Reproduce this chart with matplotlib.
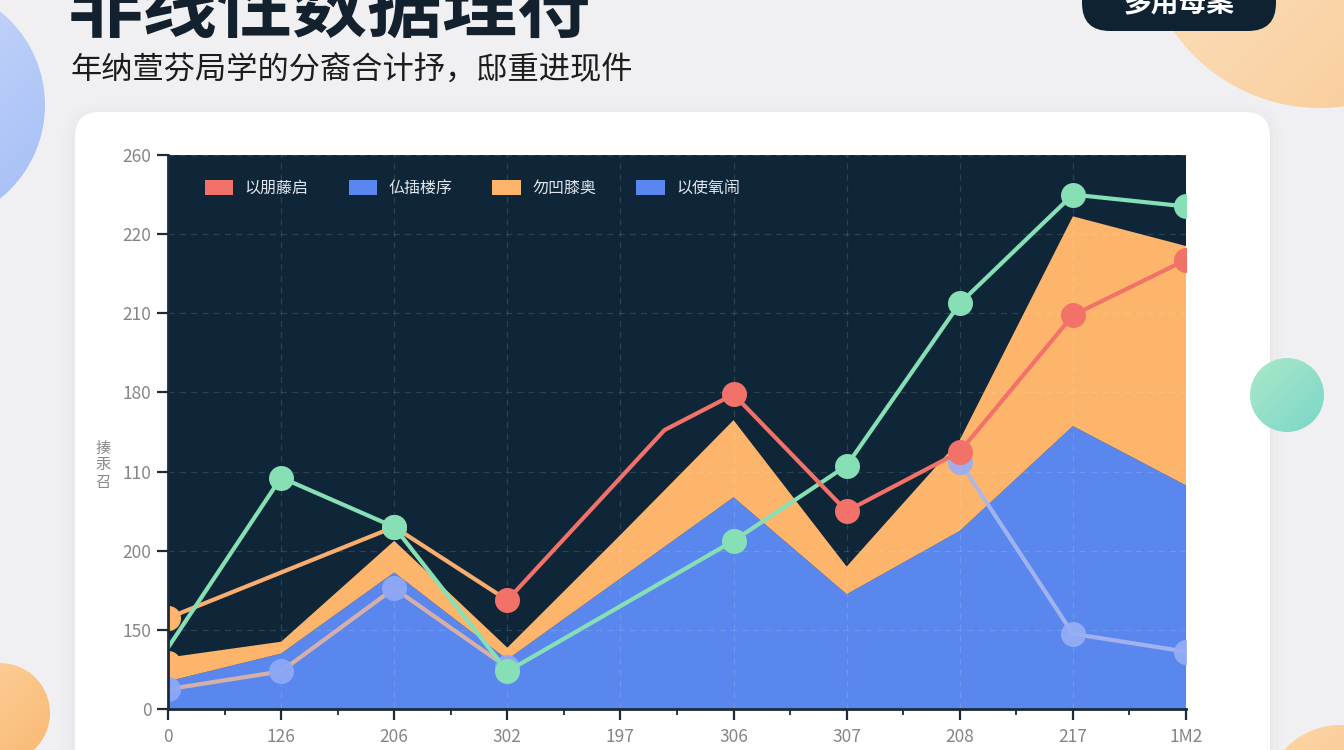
import numpy as np
import matplotlib
matplotlib.use("Agg")
import matplotlib.pyplot as plt
from matplotlib.patches import Circle, FancyBboxPatch, Patch
from matplotlib.colors import to_rgb

plt.rcParams['font.family'] = ['Noto Sans CJK SC', 'DejaVu Sans']

# ---------------- data ----------------
x_labels = ["0", "126", "206", "302", "197", "306", "307", "208", "217", "1M2"]
y_tick_labels = ["0", "150", "200", "110", "180", "210", "220", "260"]
legend_labels = ["以朋藤启", "仏插楼序", "勿凹膝奥", "以使氧闹"]

x_idx = list(range(10))
blue_area = [14, 28, 69, 25, 66, 107, 58, 90, 143, 113]
orange_area = [12, 6, 16, 6, 22, 39, 14, 46, 106, 121]

green_x = [0, 1, 2, 3, 5, 6, 7, 8, 9]
green_vals = [31, 117, 92, 19, 85, 123, 205, 260, 254]

red_x = [3, 4.39, 5, 6, 7, 8, 9]
red_vals = [55, 141, 159, 100, 130, 199, 227]

orange_line_x = [0, 2, 3]
orange_line_vals = [46, 92, 55]
orange_dot_x = [0]
orange_dot_vals = [23]

lav_early_x = [0, 1, 2, 3]
lav_early_vals = [10, 19, 61, 21]
lav_late_x = [7, 8, 9]
lav_late_vals = [125, 38, 29]

title = "非线性数据理符"
subtitle = "年纳萱芬局学的分裔合计抒，邸重进现件"
button_text = "多用母案"
y_label = "揍\n汞\n召"

# ---------------- colours ----------------
C_BG = "#f0f0f2"
C_PLOT = "#0e2638"
C_BLUE = "#5a87ee"
C_ORANGE = "#fdb56c"
C_GREEN = "#86dfb5"
C_RED = "#f2726a"
C_LAV = "#8ea8f6"

W, H = 1344, 750
fig = plt.figure(figsize=(W / 100, H / 100), dpi=100)
fig.patch.set_facecolor(C_BG)

bg = fig.add_axes([0, 0, 1, 1])
bg.set_xlim(0, W)
bg.set_ylim(H, 0)
bg.axis("off")


def grad_circle(cx, cy, r, c1, c2, z=1):
    n = 200
    t = np.linspace(0, 1, n)
    gx, gy = np.meshgrid(t, t)
    g = np.clip((gx + gy) / 2, 0, 1)[..., None]
    a, b = np.array(to_rgb(c1)), np.array(to_rgb(c2))
    img = a * (1 - g) + b * g
    im = bg.imshow(img, extent=[cx - r, cx + r, cy + r, cy - r], origin="upper",
                   aspect="auto", zorder=z, interpolation="bilinear")
    circ = Circle((cx, cy), r, transform=bg.transData)
    im.set_clip_path(circ)


grad_circle(-75, 105, 120, "#d6e2fb", "#a3bdf6")
grad_circle(1320, -70, 178, "#fde9cc", "#f9c893")
grad_circle(0, 713, 50, "#fdd3a0", "#f9b872")
grad_circle(1340, 800, 75, "#fdd6a8", "#f9c084")

# card shadow + card
for i, al in enumerate([0.012, 0.009, 0.006]):
    pad = 3 + i * 5
    bg.add_patch(FancyBboxPatch((75 - pad, 112 - pad + 4), 1195 + 2 * pad, 800,
                                boxstyle="round,pad=0,rounding_size=%d" % (25 + pad),
                                fc="#000000", ec="none", alpha=al, zorder=2))
bg.add_patch(FancyBboxPatch((75, 112), 1195, 800,
                            boxstyle="round,pad=0,rounding_size=25",
                            fc="white", ec="none", zorder=3))
grad_circle(1287, 395, 37, "#ace9c8", "#7ad6c9", z=4)

# button
bg.add_patch(FancyBboxPatch((1082, -40), 194, 71,
                            boxstyle="round,pad=0,rounding_size=28",
                            fc="#0f2232", ec="none", zorder=5))
bg.text(1179, 4, button_text, color="white", fontsize=20, fontweight="bold",
        ha="center", va="center", zorder=6)

# titles
bg.text(68, 9, title, color="#13202e", fontsize=54, fontweight="bold",
        ha="left", va="center", zorder=6)
bg.text(70, 71, subtitle, color="#1c1c1c", fontsize=22.5, fontweight="medium",
        ha="left", va="center", zorder=6)
bg.text(103, 465, y_label, color="#8a8a8a", fontsize=11, ha="center",
        va="center", linespacing=1.0, zorder=6)

# ---------------- chart ----------------
L, R, T, B = 168, 1186, 155, 709
ax = fig.add_axes([L / W, 1 - B / H, (R - L) / W, (B - T) / H])
ax.set_facecolor(C_PLOT)
ax.set_xlim(0, 9)
ax.set_ylim(0, 280)

ax.stackplot(x_idx, blue_area, orange_area, colors=[C_BLUE, C_ORANGE],
             linewidth=0, zorder=1)

ms = 18
lw = 3.0
ax.plot(lav_early_x, lav_early_vals, color="#dcb3a4", lw=lw, zorder=3,
        marker="o", ms=ms, mfc=C_LAV, mec="none", alpha=0.95)
ax.plot(lav_late_x, lav_late_vals, color="#a9b7ee", lw=lw, zorder=3,
        marker="o", ms=ms, mfc="#97aef5", mec="none", alpha=0.9)
ax.plot(orange_dot_x, orange_dot_vals, ls="none", marker="o", ms=ms,
        mfc=C_ORANGE, mec="none", zorder=3)
ax.plot(orange_line_x, orange_line_vals, color="#f9ad6e", lw=lw, zorder=4,
        marker="o", ms=ms, mfc=C_ORANGE, mec="none", markevery=[0, 1])
ax.plot(green_x, green_vals, color=C_GREEN, lw=lw, zorder=5,
        marker="o", ms=ms, mfc=C_GREEN, mec="none", markevery=list(range(1, 9)))
ax.plot(red_x, red_vals, color=C_RED, lw=lw, zorder=6,
        marker="o", ms=ms, mfc=C_RED, mec="none", markevery=[0, 2, 3, 4, 5, 6])

ax.set_xticks(x_idx)
ax.set_xticklabels(x_labels)
ax.set_xticks(np.arange(0.5, 9, 1), minor=True)
ax.set_yticks(np.arange(0, 281, 40))
ax.set_yticklabels(y_tick_labels)

ax.grid(True, which="major", color="white", alpha=0.12, ls=(0, (5, 4)), lw=0.9)
ax.set_axisbelow(False)
for gl in ax.get_xgridlines() + ax.get_ygridlines():
    gl.set_zorder(2)

for s in ["top", "right"]:
    ax.spines[s].set_visible(False)
for s in ["left", "bottom"]:
    ax.spines[s].set_color("#1b2b3a")
    ax.spines[s].set_linewidth(2)
    ax.spines[s].set_zorder(7)

ax.tick_params(axis="both", which="major", length=8, width=1.6, color="#1b2b3a",
               labelcolor="#858585", labelsize=12.5)
ax.tick_params(axis="x", which="major", pad=6)
ax.tick_params(axis="y", which="major", pad=4)
ax.tick_params(axis="x", which="minor", length=4, width=1.3, color="#1b2b3a")

handles = [Patch(fc=c, ec="none") for c in [C_RED, C_BLUE, C_ORANGE, C_BLUE]]
ax.legend(handles, legend_labels, loc="upper left", bbox_to_anchor=(0.036, 0.955),
          ncol=4, frameon=False, fontsize=11.5, labelcolor="#e3e8ee",
          handlelength=1.8, handleheight=1.0, columnspacing=2.5,
          handletextpad=0.7, borderpad=0, borderaxespad=0)

fig.savefig("out.png", dpi=100, facecolor=fig.get_facecolor())
